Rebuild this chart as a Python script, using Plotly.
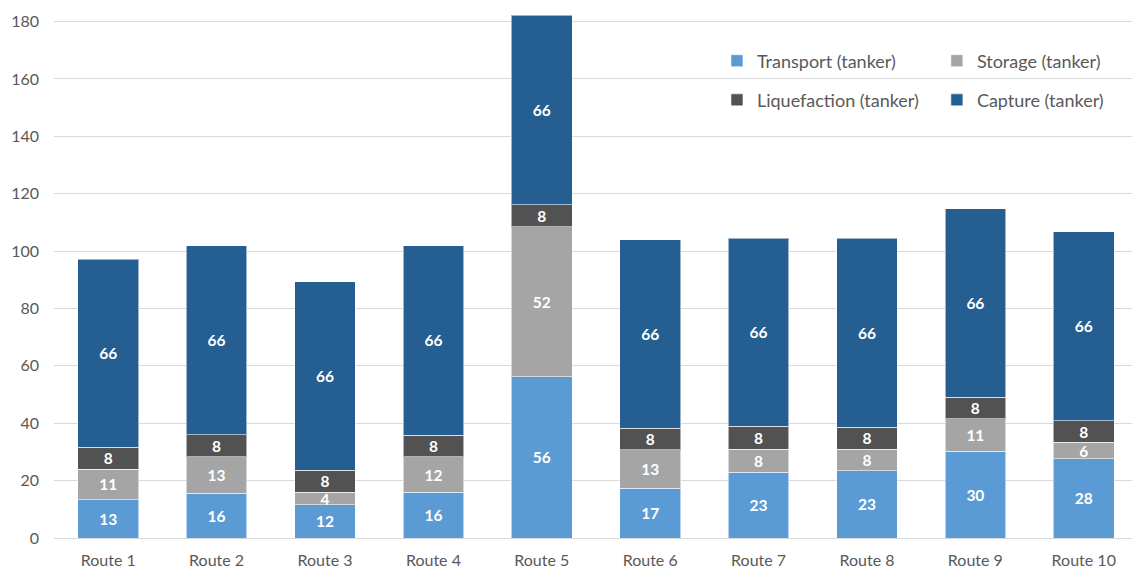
import plotly.graph_objects as go

# Cost components per route (tanker chain)
routes = ["Route 1", "Route 2", "Route 3", "Route 4", "Route 5",
          "Route 6", "Route 7", "Route 8", "Route 9", "Route 10"]
transport = [13.4, 15.6, 11.6, 15.9, 56.2, 17.4, 22.9, 23.4, 30.2, 27.7]
storage = [10.6, 12.8, 4.3, 12.4, 52.3, 13.3, 8.1, 7.6, 11.3, 5.6]
liquefaction = [7.6, 7.6, 7.8, 7.6, 7.6, 7.6, 7.9, 7.6, 7.6, 7.6]
capture = [65.6, 65.8, 65.6, 65.9, 66.1, 65.6, 65.6, 65.8, 65.7, 65.8]
y_ticks = [0, 20, 40, 60, 80, 100, 120, 140, 160, 180]

# name, values, colour, legend id, legend position (x, y in paper coords)
series = [
    ("Transport (tanker)", transport, "#5B9BD5", "legend", (0.615, 0.9086)),
    ("Storage (tanker)", storage, "#A5A5A5", "legend2", (0.819, 0.9086)),
    ("Liquefaction (tanker)", liquefaction, "#525252", "legend3", (0.615, 0.834)),
    ("Capture (tanker)", capture, "#255E91", "legend4", (0.819, 0.834)),
]

FONT = "Lato, 'Open Sans', sans-serif"
GREY = "#595959"

fig = go.Figure()
legends = {}
for name, vals, color, leg, (lx, ly) in series:
    fig.add_trace(go.Bar(
        x=routes, y=vals, name=name, legend=leg, showlegend=True,
        marker=dict(color=color, line=dict(color="rgba(255,255,255,0.55)", width=1)),
        texttemplate="%{y:.0f}", textposition="inside", insidetextanchor="middle",
        constraintext="none", textangle=0,
        textfont=dict(family=FONT, size=15.5, color="white", weight="bold"),
        hovertemplate="%{x}<br>" + name + ": %{y:.1f}<extra></extra>",
    ))
    legends[leg] = dict(
        x=lx, y=ly, xanchor="left", yanchor="middle",
        bgcolor="rgba(0,0,0,0)", visible=True,
        font=dict(family=FONT, size=18, color=GREY),
    )

fig.update_layout(
    width=1132, height=569,
    margin=dict(l=54, r=0, t=13, b=31),
    paper_bgcolor="white", plot_bgcolor="white",
    barmode="stack", bargap=0.44,
    showlegend=True,
    font=dict(family=FONT, color=GREY),
    xaxis=dict(
        range=[-0.5, 9.445], showgrid=False, showline=False, zeroline=False,
        ticks="", tickfont=dict(family=FONT, size=16, color=GREY),
        ticklabelstandoff=11, fixedrange=True, automargin=False,
    ),
    yaxis=dict(
        range=[0, 183], tickvals=y_ticks, showgrid=True, gridcolor="#D9D9D9",
        gridwidth=1, zeroline=True, zerolinecolor="#D9D9D9", zerolinewidth=1,
        showline=False, ticks="", tickfont=dict(family=FONT, size=16, color=GREY),
        ticklabelstandoff=14, fixedrange=True, automargin=False,
    ),
    **legends,
)

fig.write_html("out.html")
